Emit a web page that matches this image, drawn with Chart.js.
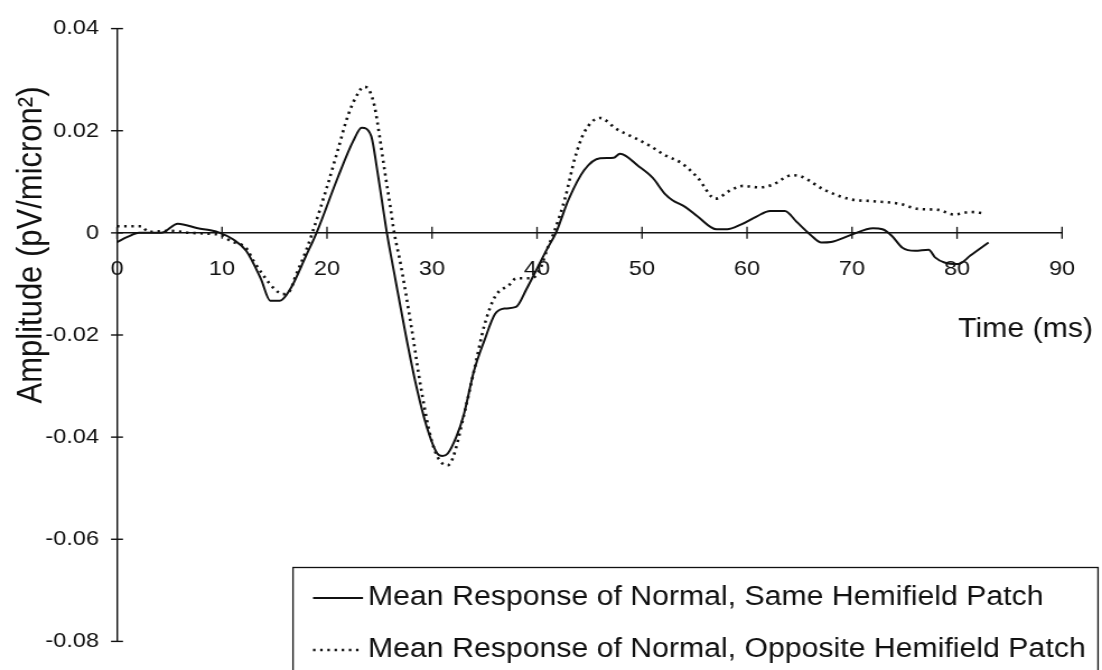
<!DOCTYPE html>
<html>
<head>
<meta charset="utf-8">
<script src="https://cdn.jsdelivr.net/npm/chart.js@4/dist/chart.umd.min.js"></script>
<style>
html,body{margin:0;padding:0;background:#fff;overflow:hidden;}
</style>
</head>
<body>
<canvas id="c" width="984" height="670" style="display:block;width:1102px;height:670px;"></canvas>
<script>
// ---------- data ----------
const sameTime = [0, 1, 2.1, 4.2, 5.8, 7.7, 8.9, 9.8, 11, 12.3, 13.7, 14.6, 15.5, 16.5, 18, 19, 21, 22.5, 23.3, 24.2, 24.8, 25.7, 26.5, 27.5, 28.5, 29.5, 30.5, 31, 31.5, 32.3, 33, 34, 35, 36, 37, 38, 39, 40, 41, 41.8, 43, 44.5, 46, 47.3, 47.9, 49.7, 51, 52.2, 52.9, 54.1, 55.3, 57.1, 58.1, 59.4, 60.9, 62.2, 63.6, 64.7, 66, 67.1, 68, 69.9, 72, 72.9, 73.8, 74.8, 76, 77.3, 77.9, 78.8, 80.1, 81.3, 83];
const sameAmp = [-0.0018, -0.0008, 0, 0, 0.0018, 0.0009, 0.0005, 0, -0.0012, -0.0035, -0.009, -0.0133, -0.0133, -0.011, -0.0045, 0, 0.0107, 0.018, 0.0206, 0.019, 0.012, 0, -0.009, -0.02, -0.03, -0.038, -0.0432, -0.0437, -0.0432, -0.04, -0.0358, -0.027, -0.021, -0.0159, -0.0148, -0.0145, -0.011, -0.007, -0.003, 0, 0.0065, 0.0123, 0.0146, 0.0147, 0.0155, 0.013, 0.0108, 0.0076, 0.0064, 0.0051, 0.0032, 0.0007, 0.0007, 0.0016, 0.0032, 0.0043, 0.0043, 0.0022, -0.0003, -0.0019, -0.0018, -0.0004, 0.0009, 0.0007, -0.0006, -0.0029, -0.0035, -0.0033, -0.0048, -0.0058, -0.0061, -0.0044, -0.0019];

const oppTime = [0, 2.3, 3, 5, 7, 9, 10, 10.8, 12.3, 13, 14, 15, 15.8, 16.5, 17, 18, 18.6, 20, 21, 22, 23, 23.5, 24, 24.5, 25, 25.5, 26, 26.4, 27, 28, 29, 30, 31, 31.5, 32, 33, 34, 35, 36, 37.4, 38, 39.5, 40.3, 41, 41.6, 42.7, 43.6, 44.5, 46, 47.6, 49.2, 50.7, 52.2, 53.8, 55.3, 57, 58.4, 59.6, 61.2, 62.4, 64.3, 65.2, 67.3, 69.8, 72, 74.5, 76.3, 78.2, 79.7, 81.3, 82.6];
const oppAmp = [0.0013, 0.0013, 0.0002, 0.0004, 0, -0.0002, -0.0005, -0.0016, -0.003, -0.0055, -0.0085, -0.011, -0.012, -0.0112, -0.0085, -0.0035, 0, 0.009, 0.016, 0.023, 0.0275, 0.0286, 0.028, 0.025, 0.019, 0.012, 0.0055, 0, -0.006, -0.018, -0.031, -0.041, -0.0452, -0.0455, -0.044, -0.036, -0.027, -0.018, -0.0125, -0.0101, -0.0089, -0.0089, -0.007, -0.003, 0, 0.007, 0.0146, 0.0197, 0.0225, 0.0203, 0.0187, 0.0171, 0.0152, 0.0136, 0.0108, 0.0067, 0.0083, 0.0092, 0.0089, 0.0094, 0.0113, 0.011, 0.0085, 0.0066, 0.0062, 0.0057, 0.0047, 0.0045, 0.0036, 0.0041, 0.0038];

const seriesLabels = ['Mean Response of Normal, Same Hemifield Patch', 'Mean Response of Normal, Opposite Hemifield Patch'];
const xTickValues = [0, 10, 20, 30, 40, 50, 60, 70, 80, 90];
const yTickValues = [0.04, 0.02, 0, -0.02, -0.04, -0.06, -0.08];
const yTickLabels = ['0.04', '0.02', '0', '-0.02', '-0.04', '-0.06', '-0.08'];
const xTitle = 'Time (ms)';
const yTitle = 'Amplitude (pV/micron\u00B2)';

// ---------- layout helpers ----------
const S = 1102 / 984;           // horizontal stretch of the scanned figure
const FONT = '"Liberation Sans", Arial, sans-serif';
const INK = '#111';

const pairs = (xs, ys) => xs.map((x, i) => ({ x: x, y: ys[i] }));

const decorPlugin = {
  id: 'decor',
  afterDraw(chart) {
    const ctx = chart.ctx;
    const xs = chart.scales.x, ys = chart.scales.y;
    const y0 = ys.getPixelForValue(0);
    const axX = xs.getPixelForValue(0);
    ctx.save();
    ctx.strokeStyle = INK;
    // crossing tick marks on x axis
    ctx.lineWidth = 1.3;
    xTickValues.forEach(v => {
      const px = xs.getPixelForValue(v);
      ctx.beginPath(); ctx.moveTo(px, y0 - 6); ctx.lineTo(px, y0 + 6); ctx.stroke();
    });
    // crossing tick marks on y axis
    ctx.lineWidth = 1.4;
    yTickValues.forEach(v => {
      const py = ys.getPixelForValue(v);
      ctx.beginPath(); ctx.moveTo(axX - 6 / S, py); ctx.lineTo(axX + 6 / S, py); ctx.stroke();
    });
    // axis titles
    ctx.fillStyle = INK;
    ctx.font = '27px ' + FONT;
    ctx.textAlign = 'right';
    ctx.textBaseline = 'middle';
    ctx.fillText(xTitle, 1093 / S, 330);
    ctx.save();
    ctx.translate(32 / S, 245);
    ctx.rotate(-Math.PI / 2);
    ctx.font = '31px ' + FONT;
    ctx.textAlign = 'center';
    ctx.fillText(yTitle, 0, 0);
    ctx.restore();
    // legend box
    const bx = 293 / S, by = 567.5, bw = 1098 / S - bx;
    ctx.fillStyle = '#fff';
    ctx.fillRect(bx, by, bw, 120);
    ctx.lineWidth = 1.3;
    ctx.strokeRect(bx, by, bw, 120);
    const rows = [598, 650];
    chart.data.datasets.forEach((ds, i) => {
      const ry = rows[i];
      ctx.save();
      ctx.strokeStyle = ds.borderColor;
      ctx.lineWidth = ds.borderWidth;
      ctx.setLineDash(ds.borderDash || []);
      ctx.beginPath(); ctx.moveTo(313 / S, ry); ctx.lineTo(363 / S, ry); ctx.stroke();
      ctx.restore();
      ctx.fillStyle = INK;
      ctx.font = '27px ' + FONT;
      ctx.textAlign = 'left';
      ctx.textBaseline = 'middle';
      ctx.fillText(ds.label, 368 / S, ry);
    });
    ctx.restore();
  }
};

new Chart(document.getElementById('c'), {
  type: 'line',
  data: {
    datasets: [
      {
        label: seriesLabels[0],
        data: pairs(sameTime, sameAmp),
        borderColor: INK,
        borderWidth: 2,
        pointRadius: 0,
        fill: false,
        cubicInterpolationMode: 'monotone'
      },
      {
        label: seriesLabels[1],
        data: pairs(oppTime, oppAmp),
        borderColor: INK,
        borderWidth: 2.6,
        borderDash: [2.2, 4.2],
        pointRadius: 0,
        fill: false,
        cubicInterpolationMode: 'monotone'
      }
    ]
  },
  options: {
    responsive: false,
    animation: false,
    devicePixelRatio: 1,
    layout: { padding: { left: 0, right: 984 - 1087 / S, top: 26, bottom: 13 } },
    plugins: { legend: { display: false }, tooltip: { enabled: false } },
    scales: {
      x: {
        type: 'linear',
        min: 0, max: 90,
        position: { y: 0 },
        afterBuildTicks: sc => { sc.ticks = xTickValues.map(v => ({ value: v })); },
        grid: { display: false, drawTicks: false },
        border: { display: true, color: INK, width: 1.4 },
        ticks: {
          color: INK, padding: 24, maxRotation: 0,
          font: { family: FONT, size: 21 },
          callback: v => String(v)
        }
      },
      y: {
        type: 'linear',
        min: -0.08, max: 0.04,
        position: 'left',
        afterBuildTicks: sc => { sc.ticks = yTickValues.map(v => ({ value: v })); },
        afterFit: sc => { sc.width = 117 / S; },
        grid: { display: false, drawTicks: false },
        border: { display: true, color: INK, width: 1.4 },
        ticks: {
          color: INK, padding: 16,
          font: { family: FONT, size: 21 },
          callback: (v) => { const i = yTickValues.findIndex(t => Math.abs(t - v) < 1e-9); return i >= 0 ? yTickLabels[i] : ''; }
        }
      }
    }
  },
  plugins: [decorPlugin]
});
</script>
</body>
</html>
